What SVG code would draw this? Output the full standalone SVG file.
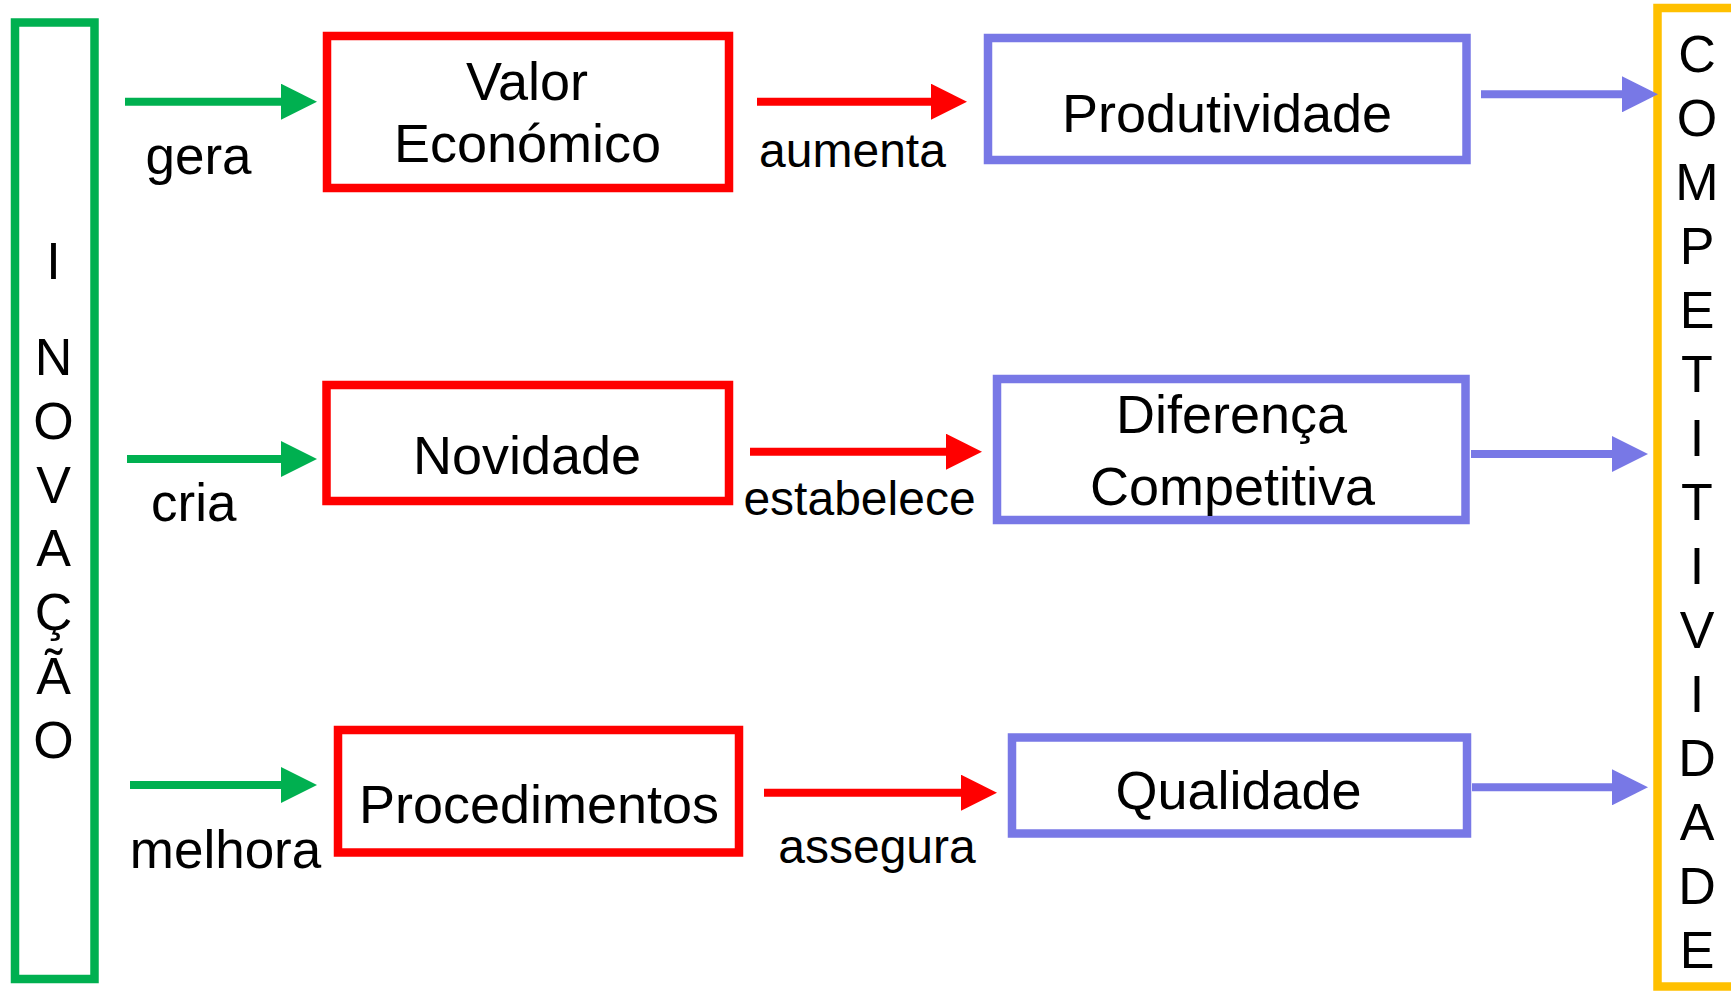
<svg xmlns="http://www.w3.org/2000/svg" width="1731" height="992" viewBox="0 0 1731 992">
<style>
text{font-family:"Liberation Sans",Arial,sans-serif;fill:#000;text-anchor:middle}
.box{fill:none;stroke-width:8.5}
.g{stroke:#00B050}.r{stroke:#FF0000}.b{stroke:#7878E6}.y{stroke:#FFC000}
.bt{font-size:54px}.ll{font-size:53px}.ml{font-size:48px}.v{font-size:52px}
.cg{stroke:#00B050;stroke-width:8}.cr{stroke:#FF0000;stroke-width:8}.cb{stroke:#7878E6;stroke-width:8}
</style>
<defs>
<marker id="ag" markerUnits="userSpaceOnUse" markerWidth="36" markerHeight="36" viewBox="0 0 36 36" refX="0" refY="18" orient="auto"><path d="M0,0 L36,18 L0,36 z" fill="#00B050"/></marker>
<marker id="ar" markerUnits="userSpaceOnUse" markerWidth="36" markerHeight="36" viewBox="0 0 36 36" refX="0" refY="18" orient="auto"><path d="M0,0 L36,18 L0,36 z" fill="#FF0000"/></marker>
<marker id="ab" markerUnits="userSpaceOnUse" markerWidth="36" markerHeight="36" viewBox="0 0 36 36" refX="0" refY="18" orient="auto"><path d="M0,0 L36,18 L0,36 z" fill="#7878E6"/></marker>
</defs>
<rect width="1731" height="992" fill="#fff"/>
<g id="inovacao">
<rect class="box g" x="15" y="22.5" width="79.5" height="956.5"/>
<text class="v" x="53.5" y="278.5">I</text>
<text class="v" x="53.5" y="374.5">N</text>
<text class="v" x="53.5" y="438.5">O</text>
<text class="v" x="53.5" y="502.5">V</text>
<text class="v" x="53.5" y="566">A</text>
<text class="v" x="53.5" y="630">Ç</text>
<text class="v" x="53.5" y="694">Ã</text>
<text class="v" x="53.5" y="757.5">O</text>
</g>
<g id="valor">
<rect class="box r" x="327" y="36" width="402" height="152"/>
<text class="bt" x="527" y="100">Valor</text>
<text class="bt" x="527.5" y="161.7">Económico</text>
</g>
<g id="novidade">
<rect class="box r" x="326.5" y="385" width="402.5" height="116"/>
<text class="bt" x="527" y="474">Novidade</text>
</g>
<g id="procedimentos">
<rect class="box r" x="338" y="730" width="401" height="122.5"/>
<text class="bt" x="539" y="822.7">Procedimentos</text>
</g>
<g id="produtividade">
<rect class="box b" x="988" y="38" width="478.5" height="122"/>
<text class="bt" x="1227" y="131.7">Produtividade</text>
</g>
<g id="diferenca">
<rect class="box b" x="997" y="379" width="468.5" height="141"/>
<text class="bt" x="1231.5" y="432.7">Diferença</text>
<text class="bt" x="1232.5" y="505">Competitiva</text>
</g>
<g id="qualidade">
<rect class="box b" x="1012" y="737.5" width="455" height="96"/>
<text class="bt" x="1238.5" y="809.3">Qualidade</text>
</g>
<g id="competitividade">
<rect class="box y" x="1657.5" y="8" width="90" height="978.5"/>
<text class="v" x="1697" y="71.5">C</text>
<text class="v" x="1697" y="135.5">O</text>
<text class="v" x="1697" y="199.6">M</text>
<text class="v" x="1697" y="263.6">P</text>
<text class="v" x="1697" y="327.6">E</text>
<text class="v" x="1697" y="391.7">T</text>
<text class="v" x="1697" y="455.7">I</text>
<text class="v" x="1697" y="519.7">T</text>
<text class="v" x="1697" y="583.8">I</text>
<text class="v" x="1697" y="647.8">V</text>
<text class="v" x="1697" y="711.8">I</text>
<text class="v" x="1697" y="775.9">D</text>
<text class="v" x="1697" y="839.9">A</text>
<text class="v" x="1697" y="903.9">D</text>
<text class="v" x="1697" y="968">E</text>
</g>
<g id="connectors">
<line class="cg" x1="125" y1="101.7" x2="281" y2="101.7" marker-end="url(#ag)"/>
<line class="cg" x1="127" y1="459" x2="281" y2="459" marker-end="url(#ag)"/>
<line class="cg" x1="130" y1="785" x2="281" y2="785" marker-end="url(#ag)"/>
<line class="cr" x1="757" y1="101.7" x2="931" y2="101.7" marker-end="url(#ar)"/>
<line class="cr" x1="750" y1="451.7" x2="946" y2="451.7" marker-end="url(#ar)"/>
<line class="cr" x1="764" y1="792.7" x2="961" y2="792.7" marker-end="url(#ar)"/>
<line class="cb" x1="1481" y1="94.3" x2="1622" y2="94.3" marker-end="url(#ab)"/>
<line class="cb" x1="1471" y1="454" x2="1612" y2="454" marker-end="url(#ab)"/>
<line class="cb" x1="1472" y1="787.3" x2="1612" y2="787.3" marker-end="url(#ab)"/>
<text class="ll" x="198.5" y="174">gera</text>
<text class="ll" x="193.7" y="521">cria</text>
<text class="ll" x="225.5" y="868">melhora</text>
<text class="ml" x="852.5" y="166.7">aumenta</text>
<text class="ml" x="859.5" y="515">estabelece</text>
<text class="ml" x="877" y="863">assegura</text>
</g>
</svg>
